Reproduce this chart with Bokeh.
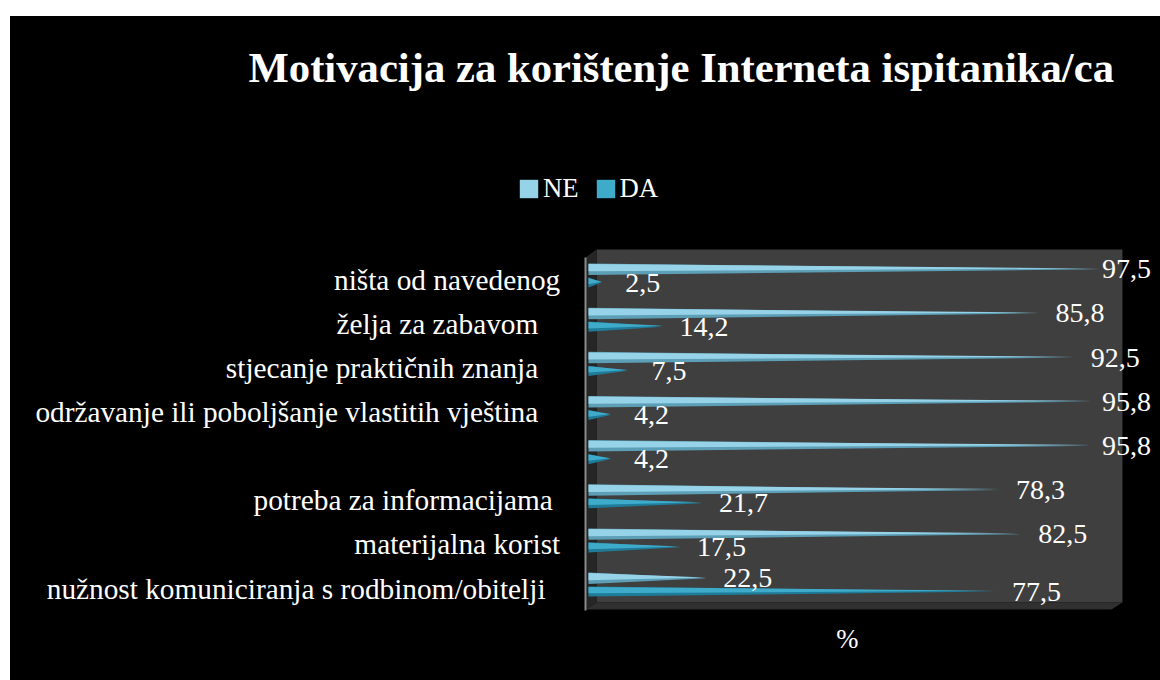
from bokeh.plotting import figure
from bokeh.models import (ColumnDataSource, Legend, LegendItem, LabelSet, Title, Spacer)
from bokeh.layouts import column, row
from bokeh.embed import file_html
from bokeh.resources import INLINE
from bokeh.core.properties import value

# ---------------- data ----------------
NB = "\u00a0"
categories = [
    "nužnost komuniciranja s rodbinom/obitelji" + NB * 3,
    "materijalna korist" + NB,
    "potreba za informacijama" + NB * 2,
    "",
    "održavanje ili poboljšanje vlastitih vještina" + NB * 4,
    "stjecanje praktičnih znanja" + NB * 4,
    "želja za zabavom" + NB * 4,
    "ništa od navedenog" + NB,
]
ne_values = [22.5, 82.5, 78.3, 95.8, 95.8, 92.5, 85.8, 97.5]
da_values = [77.5, 17.5, 21.7, 4.2, 4.2, 7.5, 14.2, 2.5]
series = ["NE", "DA"]
title_text = "Motivacija za korištenje Interneta ispitanika/ca"
x_label = "%"

# ---------------- geometry / style ----------------
W, H = 1150, 664
TOP = 79
X_START, X_END = -110.10, 108.95
Y_START, Y_END = -2.016, 11.237
NE_SHIFT = 0.30
HALF_NE = 0.13
HALF_DA = 0.115
SERIF = "Liberation Serif"
XLABEL_POS = (49.3, -1.065)

p = figure(width=W, height=H, output_backend="svg", toolbar_location=None,
           x_range=(X_START, X_END), y_range=(Y_START, Y_END),
           x_axis_location=None, y_axis_location=None,
           min_border_left=0, min_border_right=0, min_border_top=TOP, min_border_bottom=0,
           background_fill_color="black", border_fill_color="black", outline_line_color=None)
p.styles = {"background-color": "black"}

p.title = Title(text=title_text, align="left", offset=238,
                text_font=SERIF, text_font_size="42.7px", text_font_style="bold",
                text_color="white")
p.xgrid.visible = False
p.ygrid.visible = False

# 3D box (back wall, left wall, floor)
px = (X_END - X_START) / W   # data per px in x
depth_x = 11 * px
back_left = 1.52
back_right = 101.7
top_y = 7.748
floor_back = -0.249
floor_front = -0.408
left_front = back_left - depth_x
front_right = back_right - depth_x
p.quad(left=back_left, right=back_right, bottom=floor_back, top=top_y,
       fill_color="#3f3f3f", line_color=None)
p.patch([left_front, back_left, back_left, left_front],
        [7.567, top_y, floor_back, floor_front], fill_color="#262626", line_color=None)
p.patch([left_front, front_right, back_right, back_left],
        [floor_front, floor_front, floor_back, floor_back], fill_color="#303030", line_color=None)
p.segment(x0=left_front, y0=7.567, x1=left_front, y1=floor_front - 0.02,
          line_color="#8a8a8a", line_width=2)

# cone bars
ne_outer_x, ne_outer_y, ne_in_x, ne_in_y = [], [], [], []
da_outer_x, da_outer_y, da_in_x, da_in_y = [], [], [], []
for i, (ne, da) in enumerate(zip(ne_values, da_values)):
    yn = i + NE_SHIFT
    ne_outer_x.append([0, 0, ne]); ne_outer_y.append([yn - HALF_NE, yn + HALF_NE, yn])
    ne_in_x.append([0, 0, ne]); ne_in_y.append([yn - 0.35 * HALF_NE, yn + 0.9 * HALF_NE, yn + 0.02])
    yd = i
    da_outer_x.append([0, 0, da]); da_outer_y.append([yd - HALF_DA, yd + HALF_DA, yd])
    da_in_x.append([0, 0, da]); da_in_y.append([yd - 0.35 * HALF_DA, yd + 0.9 * HALF_DA, yd + 0.02])

r_ne_o = p.patches(ne_outer_x, ne_outer_y, fill_color="#5d9fb6", line_color=None)
r_ne_i = p.patches(ne_in_x, ne_in_y, fill_color="#96d3e8", line_color=None)
r_da_o = p.patches(da_outer_x, da_outer_y, fill_color="#1f7c99", line_color=None)
r_da_i = p.patches(da_in_x, da_in_y, fill_color="#3eabcb", line_color=None)

# value labels (kept inside the figure at the right edge)
def to_px(v):
    return (v - X_START) / (X_END - X_START) * W

lx, ly, lt, lo = [], [], [], []
for i, (ne, da) in enumerate(zip(ne_values, da_values)):
    for v, y in ((ne, i + NE_SHIFT), (da, i)):
        lx.append(v); ly.append(y)
        lt.append(f"{v:.1f}".replace(".", ","))
        lo.append(min(41, (W - 34) - to_px(v)))
lsrc = ColumnDataSource(dict(x=lx, y=ly, text=lt, xo=lo))
p.add_layout(LabelSet(x="x", y="y", text="text", source=lsrc, x_offset="xo", y_offset=0,
                      text_align="center", text_baseline="middle",
                      text_font=value(SERIF), text_font_size="28px", text_color="white"))

# category labels (right-aligned left of the plot box)
csrc = ColumnDataSource(dict(x=[0] * len(categories), y=list(range(len(categories))), text=categories))
p.add_layout(LabelSet(x="x", y="y", text="text", source=csrc, x_offset=-21, y_offset=3,
                      text_align="right", text_baseline="middle",
                      text_font=value(SERIF), text_font_size="29.3px", text_color="white"))

# axis title
p.add_layout(LabelSet(x="x", y="y", text="text",
                      source=ColumnDataSource(dict(x=[XLABEL_POS[0]], y=[XLABEL_POS[1]], text=[x_label])),
                      text_align="center", text_baseline="middle",
                      text_font=value(SERIF), text_font_size="26.7px", text_color="white"))

legend = Legend(items=[LegendItem(label=series[0], renderers=[r_ne_i]),
                       LegendItem(label=series[1], renderers=[r_da_i])],
                orientation="horizontal", location=(507, 476),
                glyph_width=23, glyph_height=23, label_standoff=3, spacing=15,
                padding=0, margin=0,
                label_text_font=SERIF, label_text_font_size="26.7px", label_text_color="white",
                background_fill_alpha=0, border_line_color=None)
p.add_layout(legend, "center")

layout = column(Spacer(width=10, height=16), row(Spacer(width=10, height=10), p))
open("out.html", "w").write(file_html(layout, INLINE))
